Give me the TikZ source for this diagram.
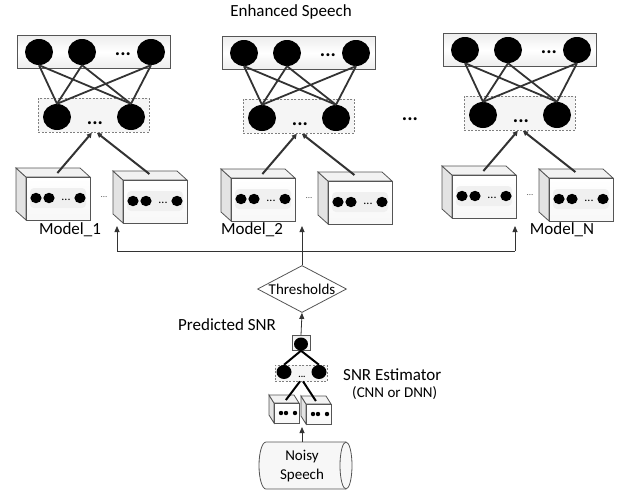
\documentclass[tikz,border=0pt]{standalone}
\usepackage{fontspec}
\setmainfont{Carlito}
\usetikzlibrary{shapes.geometric,arrows.meta}
\definecolor{edgeC}{HTML}{555555}
\definecolor{lineC}{HTML}{333333}

\tikzset{
  topbox/.style={rectangle, draw=edgeC, line width=0.8pt, top color=gray!14, bottom color=gray!14, middle color=white, inner sep=0},
  hidbox/.style={rectangle, draw=gray, line width=0.7pt, dash pattern=on 2pt off 1.5pt, fill=gray!8, inner sep=0},
  neuron/.style={ellipse, fill=black, minimum width=28pt, minimum height=26pt, inner sep=0},
  conn/.style={draw=lineC, line width=1.8pt},
  feed/.style={draw=lineC, line width=2pt, -{Triangle[length=5pt,width=5pt]}},
  flow/.style={draw=lineC, line width=0.8pt, -{Triangle[length=6pt,width=5pt]}},
  plain/.style={draw=lineC, line width=0.8pt},
  lbl/.style={font=\fontsize{17}{20}\selectfont, inner sep=0},
  slbl/.style={font=\fontsize{15}{18}\selectfont, inner sep=0},
  bigdots/.style={font=\fontsize{20}{20}\selectfont\bfseries, inner sep=0},
  cubefront/.style={rectangle, draw=edgeC, line width=0.8pt, top color=white, bottom color=gray!6, inner sep=0},
  cubeleft/.style={draw=edgeC, line width=0.8pt, fill=gray!22},
  cubetop/.style={draw=edgeC, line width=0.8pt, fill=gray!10},
}

% name, x, y (front top-left), w, h, dx, dy
\newcommand{\cubebox}[7]{%
  \filldraw[cubeleft] (#2,#3) -- ++(#6,#7) -- ++(0,#5) -- (#2,#3+#5) -- cycle;
  \filldraw[cubetop] (#2,#3) -- ++(#6,#7) -- ++(#4,0) -- (#2+#4,#3) -- cycle;
  \node[cubefront, anchor=north west, minimum width=#4pt, minimum height=#5pt] (#1) at (#2,#3) {};
}
% dots inside a big cube
\newcommand{\cubedots}[1]{%
  \fill[gray!12, rounded corners=4pt] ([shift={(4,11)}]#1.north west) rectangle ([shift={(60,31)}]#1.north west);
  \fill[black] ([shift={(10,21)}]#1.north west) ellipse (5.6 and 5.2);
  \fill[black] ([shift={(23,21)}]#1.north west) ellipse (5.6 and 5.2);
  \node[font=\fontsize{12}{12}\selectfont, inner sep=0] at ([shift={(40,23)}]#1.north west) {...};
  \fill[black] ([shift={(54,21)}]#1.north west) ellipse (5.6 and 5.2);
}
% one network group: prefix, x, y
\newcommand{\netgroup}[3]{%
  \begin{scope}[shift={(#2,#3)}]
    \node[topbox, anchor=north west, minimum width=153pt, minimum height=33pt] (#1top) at (0,0) {};
    \node[neuron] (#1t1) at (22,17) {};
    \node[neuron] (#1t2) at (65,17) {};
    \node[neuron] (#1t3) at (134,17) {};
    \node[bigdots] (#1tdots) at (106,19) {...};
    \node[hidbox, anchor=north west, minimum width=111pt, minimum height=34pt] (#1hid) at (21,63) {};
    \node[neuron] (#1h1) at (40,82) {};
    \node[neuron] (#1h2) at (114,82) {};
    \node[bigdots] (#1hdots) at (78,88) {...};
    \foreach \a in {t1,t2,t3}{\foreach \b in {h1,h2}{\draw[conn] (#1\a.south) -- (#1\b.north);}}
    \cubebox{#1ca}{9}{142}{64}{43}{-10}{-9}
    \cubebox{#1cb}{106}{145}{64}{43}{-10}{-9}
    \cubedots{#1ca}
    \cubedots{#1cb}
    \node[font=\fontsize{9}{9}\selectfont, text=gray!70!black, inner sep=0] (#1cdots) at (87,162) {...};
    \coordinate (#1caT) at ([shift={(-1,-4)}]#1ca.north);
    \coordinate (#1cbT) at ([shift={(-6,-6)}]#1cb.north);
    \draw[feed] (#1caT) -- ([xshift=-2pt]#1hid.south);
    \draw[feed] (#1cbT) -- ([xshift=3pt]#1hid.south);
  \end{scope}
}

\begin{document}
\begin{tikzpicture}[x=1pt,y=-1pt]
\useasboundingbox (0,0) rectangle (623,491);

\node[lbl] (enh) at (291,12) {Enhanced Speech};

\netgroup{A}{17}{35}
\netgroup{B}{222}{36}
\netgroup{C}{443}{33}

\node[bigdots] (middots) at (410,119) {...};

\node[lbl] (m1) at (70,230) {Model\_1};
\node[lbl] (m2) at (252,230) {Model\_2};
\node[lbl] (mN) at (562,230) {Model\_N};

% distribution lines
\coordinate (hL) at (117,251);
\coordinate (hM) at (302,251);
\coordinate (hR) at (515,251);
\coordinate (uL) at (117,226);
\coordinate (uM) at (302,226);
\coordinate (uR) at (515,226);
\draw[plain] (hL) -- (hR);
\draw[flow] (hL) -- (uL);
\draw[flow] (hM) -- (uM);
\draw[flow] (hR) -- (uR);

% thresholds
\node[diamond, draw=edgeC, line width=0.8pt, fill=white, aspect=1.9, inner sep=0, minimum width=89pt, minimum height=47pt, font=\fontsize{15}{18}\selectfont] (thr) at (302,289) {Thresholds};
\draw[plain] (thr.north) -- (hM);

\node[lbl, anchor=west] (pred) at (178,325) {Predicted SNR};

% SNR estimator network
\node[topbox, minimum width=18pt, minimum height=15pt] (sout) at (301,343) {};
\node[neuron, minimum width=14pt, minimum height=13pt] (so) at (301,344) {};
\draw[flow] (sout.north) -- (thr.south);
\node[hidbox, minimum width=52pt, minimum height=16pt] (shid) at (301,373) {};
\node[neuron, minimum width=15pt, minimum height=14pt] (sh1) at (284,372) {};
\node[neuron, minimum width=15pt, minimum height=14pt] (sh2) at (319,372) {};
\node[font=\fontsize{9}{9}\selectfont\bfseries, inner sep=0] (sdots) at (302,377) {...};
\draw[draw=black, line width=2pt] (so.south) -- (sh1.north);
\draw[draw=black, line width=2pt] (so.south) -- (sh2.north);

\cubebox{sa}{274}{403}{25}{20}{-5}{-8}
\cubebox{sb}{306}{404}{25}{20}{-5}{-8}
\foreach \c in {sa,sb}{
  \fill[black] ([shift={(7,10)}]\c.north west) circle (2.2);
  \fill[black] ([shift={(12,10)}]\c.north west) circle (2.2);
  \fill[black] ([shift={(21,10)}]\c.north west) circle (2.2);
}
\coordinate (saT) at ([shift={(-1,-3)}]sa.north);
\coordinate (sbT) at ([shift={(-3,-3)}]sb.north);
\draw[draw=black, line width=2pt] (saT) -- ([xshift=-1pt]shid.south);
\draw[draw=black, line width=2pt] (sbT) -- ([xshift=2pt]shid.south);

\node[lbl, anchor=west] (est) at (343,375) {SNR Estimator};
\node[slbl, anchor=west] (cnn) at (352,393) {(CNN or DNN)};

% noisy speech cylinder
\fill[gray!6] (266,442) -- (346,442) arc (-90:90:6 and 23.5) -- (266,489) arc (90:270:7 and 23.5) -- cycle;
\draw[edgeC, line width=0.8pt] (266,442) -- (346,442) arc (-90:90:6 and 23.5) -- (266,489) arc (90:270:7 and 23.5) -- cycle;
\draw[edgeC, line width=0.8pt] (346,442) arc (-90:-270:6 and 23.5);
\node[slbl, align=center] (noisy) at (302,466) {Noisy\\[1pt]Speech};
\coordinate (nsT) at (302,442);
\coordinate (nsA) at (302,427);
\draw[flow] (nsT) -- (nsA);
\end{tikzpicture}
\end{document}
